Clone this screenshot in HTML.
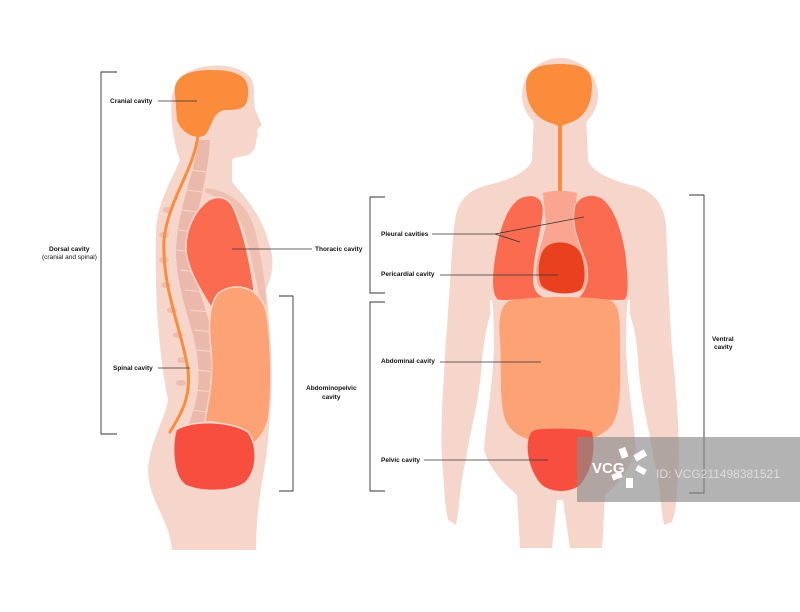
<!DOCTYPE html>
<html><head><style>
body{margin:0;background:#fff}
svg{display:block}
text{font-family:"Liberation Sans",sans-serif;font-size:6.5px;font-weight:bold;fill:#111}
</style></head><body>
<svg width="800" height="612" viewBox="0 0 800 612">
<!-- SIDE FIGURE -->
<g fill="#f6d6cb">
<path d="M180,78 C195,62 240,60 252,80 C256,92 252,100 256,112 L262,125 C258,128 256,130 258,135 C255,140 257,148 252,152 C248,158 236,155 232,160 L232,182 C248,200 262,218 268,240 C276,262 272,275 266,290 C272,330 272,400 268,440 C266,470 256,500 256,550 L172,550 C170,520 148,500 148,470 C150,440 165,420 168,400 C160,360 154,300 156,230 C158,200 172,180 180,160 C172,140 170,110 172,95 Z"/>
</g>
<!-- vertebrae -->
<g fill="#ebb9ac">
<path d="M198,140 L210,140 C208,180 196,210 192,250 C194,290 214,320 216,360 C218,400 208,420 198,436 L186,432 C194,410 200,395 198,365 C196,330 178,300 176,255 C176,210 195,175 198,140 Z"/>
</g>
<g fill="#ecbcaf">
<ellipse cx="168" cy="210" rx="5" ry="3"/><ellipse cx="164" cy="235" rx="5" ry="3"/><ellipse cx="164" cy="260" rx="5" ry="3"/><ellipse cx="166" cy="285" rx="5" ry="3"/><ellipse cx="172" cy="310" rx="5" ry="3"/><ellipse cx="178" cy="335" rx="5" ry="3"/><ellipse cx="182" cy="360" rx="5" ry="3"/><ellipse cx="181" cy="383" rx="5" ry="3"/>
</g>
<g stroke="#f6d6cb" stroke-width="1">
<line x1="192" y1="170" x2="207" y2="172"/><line x1="186" y1="190" x2="202" y2="192"/><line x1="181" y1="210" x2="197" y2="212"/><line x1="178" y1="230" x2="194" y2="232"/><line x1="177" y1="250" x2="193" y2="252"/><line x1="180" y1="270" x2="198" y2="272"/><line x1="185" y1="290" x2="205" y2="292"/><line x1="190" y1="310" x2="210" y2="312"/><line x1="194" y1="330" x2="214" y2="332"/><line x1="196" y1="350" x2="216" y2="352"/><line x1="197" y1="370" x2="216" y2="372"/><line x1="195" y1="390" x2="213" y2="392"/><line x1="191" y1="410" x2="208" y2="412"/>
</g>
<!-- rib band -->
<path d="M205,188 C230,190 248,205 255,230 C262,260 266,285 266,305 L262,308 C256,280 250,250 244,230 C236,210 220,198 205,192 Z" fill="#eec0b2"/>
<!-- brain -->
<path d="M175,95 C172,75 190,70 212,70 C240,70 250,78 248,95 C247,108 242,110 225,110 C212,112 212,128 205,135 C198,140 182,135 177,120 Z" fill="#fb8c3c"/>
<!-- spinal cord -->
<path d="M198,135 C194,170 168,200 164,240 C162,290 182,330 188,370 C191,400 180,415 170,432" fill="none" stroke="#fb8c3c" stroke-width="3" stroke-linecap="round"/>
<!-- thoracic -->
<path d="M203,205 C212,195 225,195 232,205 C242,225 250,260 254,290 L250,296 C236,290 225,295 218,320 C208,300 188,275 186,250 C185,230 195,212 203,205 Z" fill="#fb6b4f" stroke="#f6d6cb" stroke-width="1.5"/>
<!-- abdominal -->
<path d="M220,292 C235,282 258,286 266,310 C272,340 272,400 268,420 C265,433 258,440 252,445 C240,430 220,420 205,422 C208,400 215,380 210,340 C208,315 212,298 220,292 Z" fill="#fca274" stroke="#f6d6cb" stroke-width="1.5"/>
<!-- pelvic -->
<path d="M176,430 C190,420 230,420 248,432 C258,445 258,470 245,483 C230,493 200,492 185,485 C172,475 172,445 176,430 Z" fill="#f84e40" stroke="#f6d6cb" stroke-width="1.5"/>

<!-- FRONT FIGURE -->
<g fill="#f6d6cb">
<ellipse cx="560" cy="95" rx="38" ry="37"/>
<path d="M534,115 L586,115 L588,160 C592,172 610,180 635,186 C655,192 664,205 666,225 C668,280 670,330 674,370 C678,410 680,450 678,480 C676,500 676,512 672,522 L664,525 C660,505 660,480 654,460 C650,430 640,400 638,360 C636,330 632,320 628,310 L626,340 C626,380 634,420 636,450 C630,470 612,490 605,495 L602,548 L570,548 L563,500 L557,500 L552,548 L520,548 L517,495 C505,485 490,470 484,450 C486,420 494,380 494,340 L492,310 C488,320 484,340 482,360 C480,400 470,430 466,460 C460,480 460,505 456,525 L448,520 C444,500 444,480 442,460 C440,420 444,380 446,340 C450,290 452,240 455,220 C458,200 468,190 488,185 C510,180 528,172 532,160 Z"/>
</g>
<!-- arm gaps -->
<path d="M490,300 C492,330 488,360 482,390 C476,420 470,440 468,470 L472,470 C476,440 484,410 490,380 C494,350 495,325 492,300 Z" fill="#fff"/>
<path d="M630,300 C628,330 632,360 638,390 C644,420 650,440 652,470 L648,470 C644,440 636,410 630,380 C626,350 625,325 628,300 Z" fill="#fff"/>
<!-- brain -->
<path d="M526,85 C526,68 540,64 560,64 C580,64 592,68 592,85 C592,108 582,120 566,124 L562,126 L562,195 L558,195 L558,126 L554,124 C538,120 526,108 526,85 Z" fill="#fb8c3c"/>
<!-- mediastinum -->
<path d="M543,193 C552,190 568,190 577,193 L574,225 C580,250 592,270 588,286 C582,296 545,296 538,285 C532,265 542,245 546,225 Z" fill="#f9a590"/>
<!-- lungs -->
<path d="M520,198 C535,192 545,198 543,215 C540,240 532,260 534,285 C536,294 542,296 545,298 C530,298 510,302 498,300 C490,295 492,270 496,250 C500,225 508,205 520,198 Z" fill="#fb6b4f" stroke="#f6d6cb" stroke-width="1"/>
<path d="M575,205 C580,195 592,193 602,198 C615,208 622,230 626,255 C628,275 630,295 625,300 C613,302 595,298 578,298 C586,290 590,278 586,262 C580,245 570,225 575,205 Z" fill="#fb6b4f" stroke="#f6d6cb" stroke-width="1"/>
<!-- heart -->
<path d="M545,248 C552,240 572,240 580,252 C586,265 586,285 580,290 C570,296 548,294 541,285 C537,275 538,255 545,248 Z" fill="#e9401f"/>
<!-- abdominal -->
<path d="M512,300 C540,296 585,296 610,300 C620,305 620,320 620,340 C620,380 622,410 612,425 C600,440 580,442 560,442 C535,442 518,440 508,425 C498,410 502,370 500,340 C498,320 500,303 512,300 Z" fill="#fca274"/>
<!-- pelvic -->
<path d="M535,430 C545,428 585,428 592,432 C596,450 592,470 580,485 C570,493 552,493 542,485 C532,475 526,455 528,442 C529,435 531,431 535,430 Z" fill="#f84e40"/>

<!-- LEADER LINES -->
<g stroke="#333" stroke-width="0.8" fill="none">
<line x1="158" y1="101" x2="197" y2="101"/>
<line x1="232" y1="249" x2="312" y2="249"/>
<line x1="158" y1="368" x2="190" y2="368"/>
<line x1="432" y1="234" x2="495" y2="234"/>
<polyline points="520,242 495,234 584,217"/>
<line x1="440" y1="275" x2="558" y2="275"/>
<line x1="440" y1="362" x2="541" y2="362"/>
<line x1="424" y1="460" x2="548" y2="460"/>
</g>
<!-- BRACKETS -->
<g stroke="#333" stroke-width="0.9" fill="none">
<polyline points="117,72 101,72 101,434 117,434"/>
<polyline points="279,296 293,296 293,491 279,491"/>
<polyline points="385,197 370,197 370,293 385,293"/>
<polyline points="385,302 370,302 370,491 385,491"/>
<polyline points="689,195 704,195 704,493 689,493"/>
</g>
<!-- LABELS -->
<text x="110" y="103">Cranial cavity</text>
<text x="49" y="251">Dorsal cavity</text>
<text x="42" y="259" style="font-weight:normal">(cranial and spinal)</text>
<text x="315" y="251">Thoracic cavity</text>
<text x="113" y="370">Spinal cavity</text>
<text x="306" y="390">Abdominopelvic</text>
<text x="322" y="399">cavity</text>
<text x="381" y="236">Pleural cavities</text>
<text x="381" y="276">Pericardial cavity</text>
<text x="381" y="363">Abdominal cavity</text>
<text x="381" y="462">Pelvic cavity</text>
<text x="712" y="341">Ventral</text>
<text x="714" y="349">cavity</text>
<!-- watermark -->
<rect x="577" y="437" width="223" height="65" fill="#8a8a8a" opacity="0.65"/>
<text x="592" y="473" style="font-size:15px;fill:#fff;font-weight:bold">VCG</text>
<g fill="#fff">
<rect x="620" y="448" width="7" height="10" transform="rotate(-20 623 453)"/>
<rect x="634" y="452" width="12" height="7" transform="rotate(-30 640 455)"/>
<rect x="636" y="467" width="10" height="6" transform="rotate(30 641 470)"/>
<rect x="626" y="478" width="7" height="10"/>
<rect x="612" y="473" width="10" height="6" transform="rotate(-20 617 476)"/>
</g>
<text x="656" y="478" style="font-size:12px;fill:#ddd;font-weight:normal">ID: VCG211498381521</text>
</svg>
</body></html>
